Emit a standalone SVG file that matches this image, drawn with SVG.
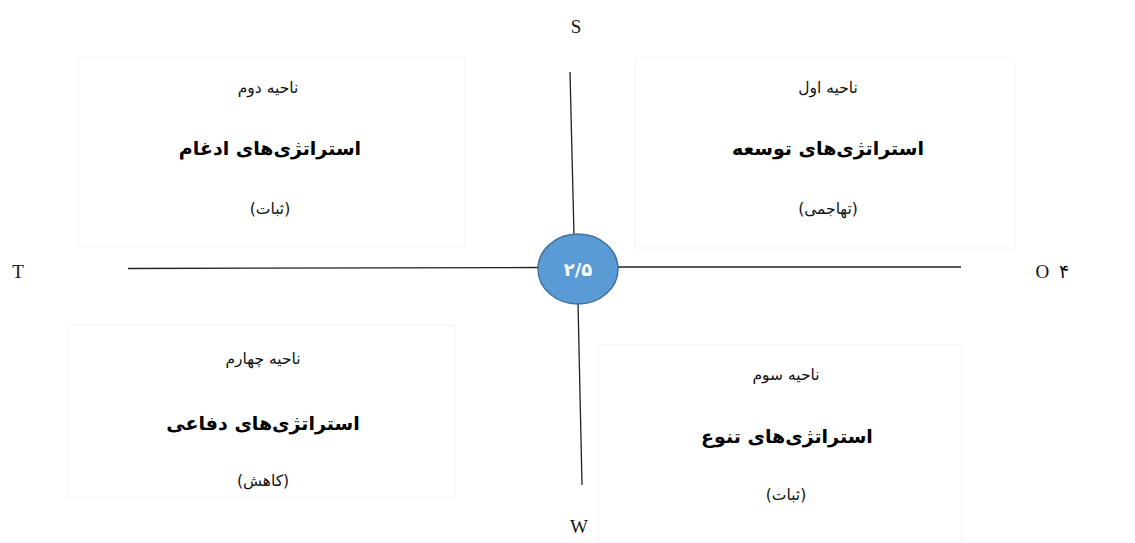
<svg xmlns="http://www.w3.org/2000/svg" width="1135" height="543" viewBox="0 0 1135 543">
<style>
.box{fill:#fff;stroke:#f4f4f4;stroke-width:1}
.ax{stroke:#222;stroke-width:1.3;fill:none}
.sm{font-family:"DejaVu Sans",sans-serif;font-size:15.5px;fill:#111;text-anchor:middle}
.bd{font-family:"DejaVu Sans",sans-serif;font-size:19px;font-weight:bold;fill:#000;text-anchor:middle}
.lt{font-family:"Liberation Serif",serif;font-size:19px;fill:#111;text-anchor:middle}
</style>
<rect width="1135" height="543" fill="#fff"/>
<g id="q2">
<rect class="box" x="78" y="58" width="387" height="188"/>
<text class="sm" x="268" y="93" direction="rtl">ناحیه دوم</text>
<text class="bd" x="270" y="155" direction="rtl">استراتژی‌های ادغام</text>
<text class="sm" x="270" y="214" direction="rtl">(ثبات)</text>
</g>
<g id="q1">
<rect class="box" x="635" y="58" width="380" height="190"/>
<text class="sm" x="828" y="93" direction="rtl">ناحیه اول</text>
<text class="bd" x="828" y="155" direction="rtl">استراتژی‌های توسعه</text>
<text class="sm" x="828" y="214" direction="rtl">(تهاجمی)</text>
</g>
<g id="q4">
<rect class="box" x="68" y="325" width="387" height="172"/>
<text class="sm" x="263" y="364" direction="rtl">ناحیه چهارم</text>
<text class="bd" x="263" y="430" direction="rtl">استراتژی‌های دفاعی</text>
<text class="sm" x="263" y="486" direction="rtl">(کاهش)</text>
</g>
<g id="q3">
<rect class="box" x="598" y="345" width="364" height="198"/>
<text class="sm" x="786" y="380" direction="rtl">ناحیه سوم</text>
<text class="bd" x="787" y="443" direction="rtl">استراتژی‌های تنوع</text>
<text class="sm" x="786" y="500" direction="rtl">(ثبات)</text>
</g>
<g id="connectors">
<line class="ax" x1="570" y1="72" x2="574" y2="236"/>
<line class="ax" x1="578" y1="303" x2="582" y2="485"/>
<line class="ax" x1="128" y1="268.5" x2="538" y2="267.5"/>
<line class="ax" x1="618" y1="267" x2="961" y2="267"/>
</g>
<g id="center">
<ellipse cx="578" cy="269" rx="40" ry="35" fill="#5b9bd5" stroke="#41719c" stroke-width="1.5"/>
<text x="578" y="276" font-family="DejaVu Sans,sans-serif" font-size="18" font-weight="bold" fill="#fff" text-anchor="middle">۲/۵</text>
</g>
<g id="labels">
<text class="lt" x="576" y="33">S</text>
<text class="lt" x="18" y="278">T</text>
<text class="lt" x="1052" y="278" xml:space="preserve">O  ۴</text>
<text class="lt" x="579" y="533">W</text>
</g>
</svg>
